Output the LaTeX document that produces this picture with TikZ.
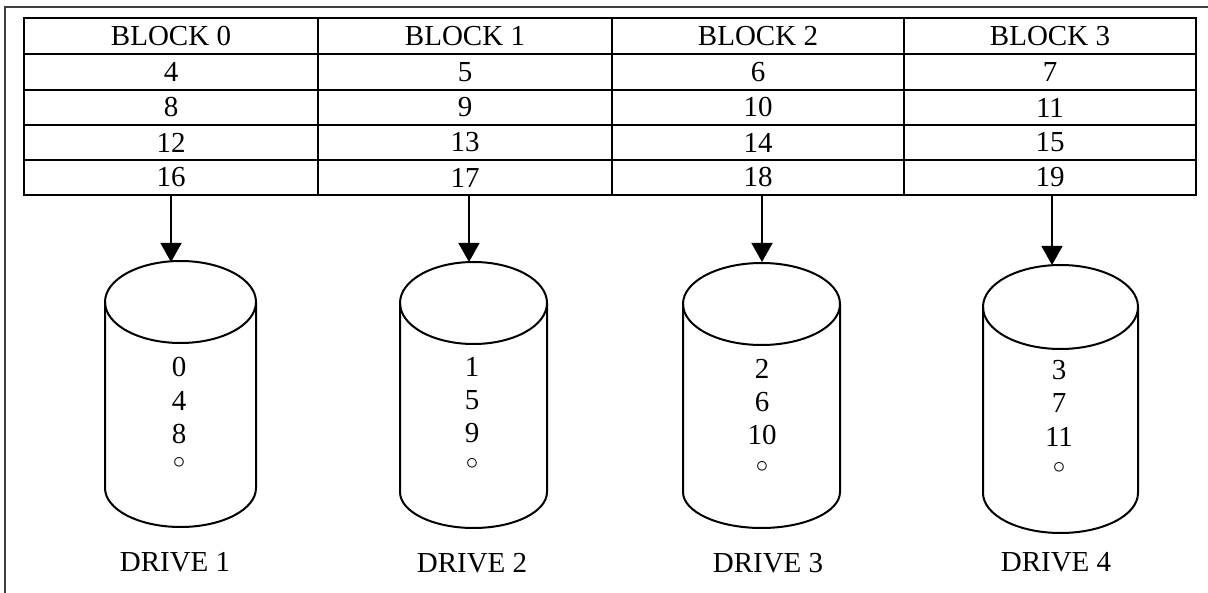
\documentclass[tikz,border=0pt]{standalone}
\usepackage{fontspec}
\setmainfont{Liberation Serif}
\usetikzlibrary{arrows.meta}
\begin{document}
\begin{tikzpicture}[x=1pt,y=-1pt,
  cell/.style={draw, line width=2pt, inner sep=0pt, anchor=center,
    font=\fontsize{29}{33}\selectfont},
  lbl/.style={inner sep=0pt, font=\fontsize{29}{33}\selectfont},
  cyl/.style={line width=2pt},
  dot/.style={inner sep=0pt, font=\fontsize{25}{28}\selectfont},
  conn/.style={line width=1.5pt, -{Triangle[width=21pt,length=19pt]}},
  frame/.style={line width=1.5pt, draw=black!75}]
\useasboundingbox (0,0) rectangle (1208,593);
\draw[frame] (5,593) -- (5,7) -- (1208,7);
% table cells
\foreach \c/\cx/\cw/\a/\b/\d/\e in {
  0/171/294/BLOCK 0/4/8/12,
  1/465/294/BLOCK 1/5/9/13,
  2/758/292/BLOCK 2/6/10/14,
  3/1050/292/BLOCK 3/7/11/15}{
  \node[cell, minimum width=\cw pt, minimum height=36pt] (r0c\c) at (\cx,36) {\a};
  \node[cell, minimum width=\cw pt, minimum height=36pt] (r1c\c) at (\cx,72) {\b};
  \node[cell, minimum width=\cw pt, minimum height=35pt] (r2c\c) at (\cx,107.5) {\d};
  \node[cell, minimum width=\cw pt, minimum height=35pt] (r3c\c) at (\cx,142.5) {\e};
}
\node[cell, minimum width=294pt, minimum height=35pt] (r4c0) at (171,177.5) {16};
\node[cell, minimum width=294pt, minimum height=35pt] (r4c1) at (465,177.5) {17};
\node[cell, minimum width=292pt, minimum height=35pt] (r4c2) at (758,177.5) {18};
\node[cell, minimum width=292pt, minimum height=35pt] (r4c3) at (1050,177.5) {19};
% cylinders: cx, rx, top center, top ry, bottom center, bottom ry
\foreach \i/\cx/\rx/\ty/\tr/\by/\br in {
  1/180.5/75.5/302/41/488/39,
  2/473.5/73.5/303/41/492/36,
  3/761.5/78.5/304/41/492/36,
  4/1060.5/77.5/307/42/493/40}{
  \draw[cyl] (\cx,\ty) ellipse [x radius=\rx, y radius=\tr];
  \draw[cyl] (\cx-\rx,\ty) -- (\cx-\rx,\by)
     arc[start angle=180, end angle=360, x radius=\rx, y radius=-\br]
     -- (\cx+\rx,\ty);
}
% arrow end points (top of each cylinder)
\coordinate (d1) at (171,262);
\coordinate (d2) at (469,262);
\coordinate (d3) at (762,262);
\coordinate (d4) at (1052,265);
\draw[conn] (d1 |- r4c0.south) -- (d1);
\draw[conn] (d2 |- r4c1.south) -- (d2);
\draw[conn] (d3 |- r4c2.south) -- (d3);
\draw[conn] (d4 |- r4c3.south) -- (d4);
% drive contents
\node[lbl] (n10) at (179,367) {0};
\node[lbl] (n11) at (179,401) {4};
\node[lbl] (n12) at (179,434) {8};
\node[dot] (n13) at (179,469) {\smash{$\circ$}};
\node[lbl] (n20) at (472,367) {1};
\node[lbl] (n21) at (472,400) {5};
\node[lbl] (n22) at (472,433) {9};
\node[dot] (n23) at (472,470) {\smash{$\circ$}};
\node[lbl] (n30) at (762,369) {2};
\node[lbl] (n31) at (762,402) {6};
\node[lbl] (n32) at (762,435) {10};
\node[dot] (n33) at (762,472) {\smash{$\circ$}};
\node[lbl] (n40) at (1059,370) {3};
\node[lbl] (n41) at (1059,403) {7};
\node[lbl] (n42) at (1059,437) {11};
\node[dot] (n43) at (1059,474) {\smash{$\circ$}};
% drive labels
\node[lbl] (l1) at (175,562) {DRIVE 1};
\node[lbl] (l2) at (472,563) {DRIVE 2};
\node[lbl] (l3) at (768,563) {DRIVE 3};
\node[lbl] (l4) at (1056,562) {DRIVE 4};
\end{tikzpicture}
\end{document}
